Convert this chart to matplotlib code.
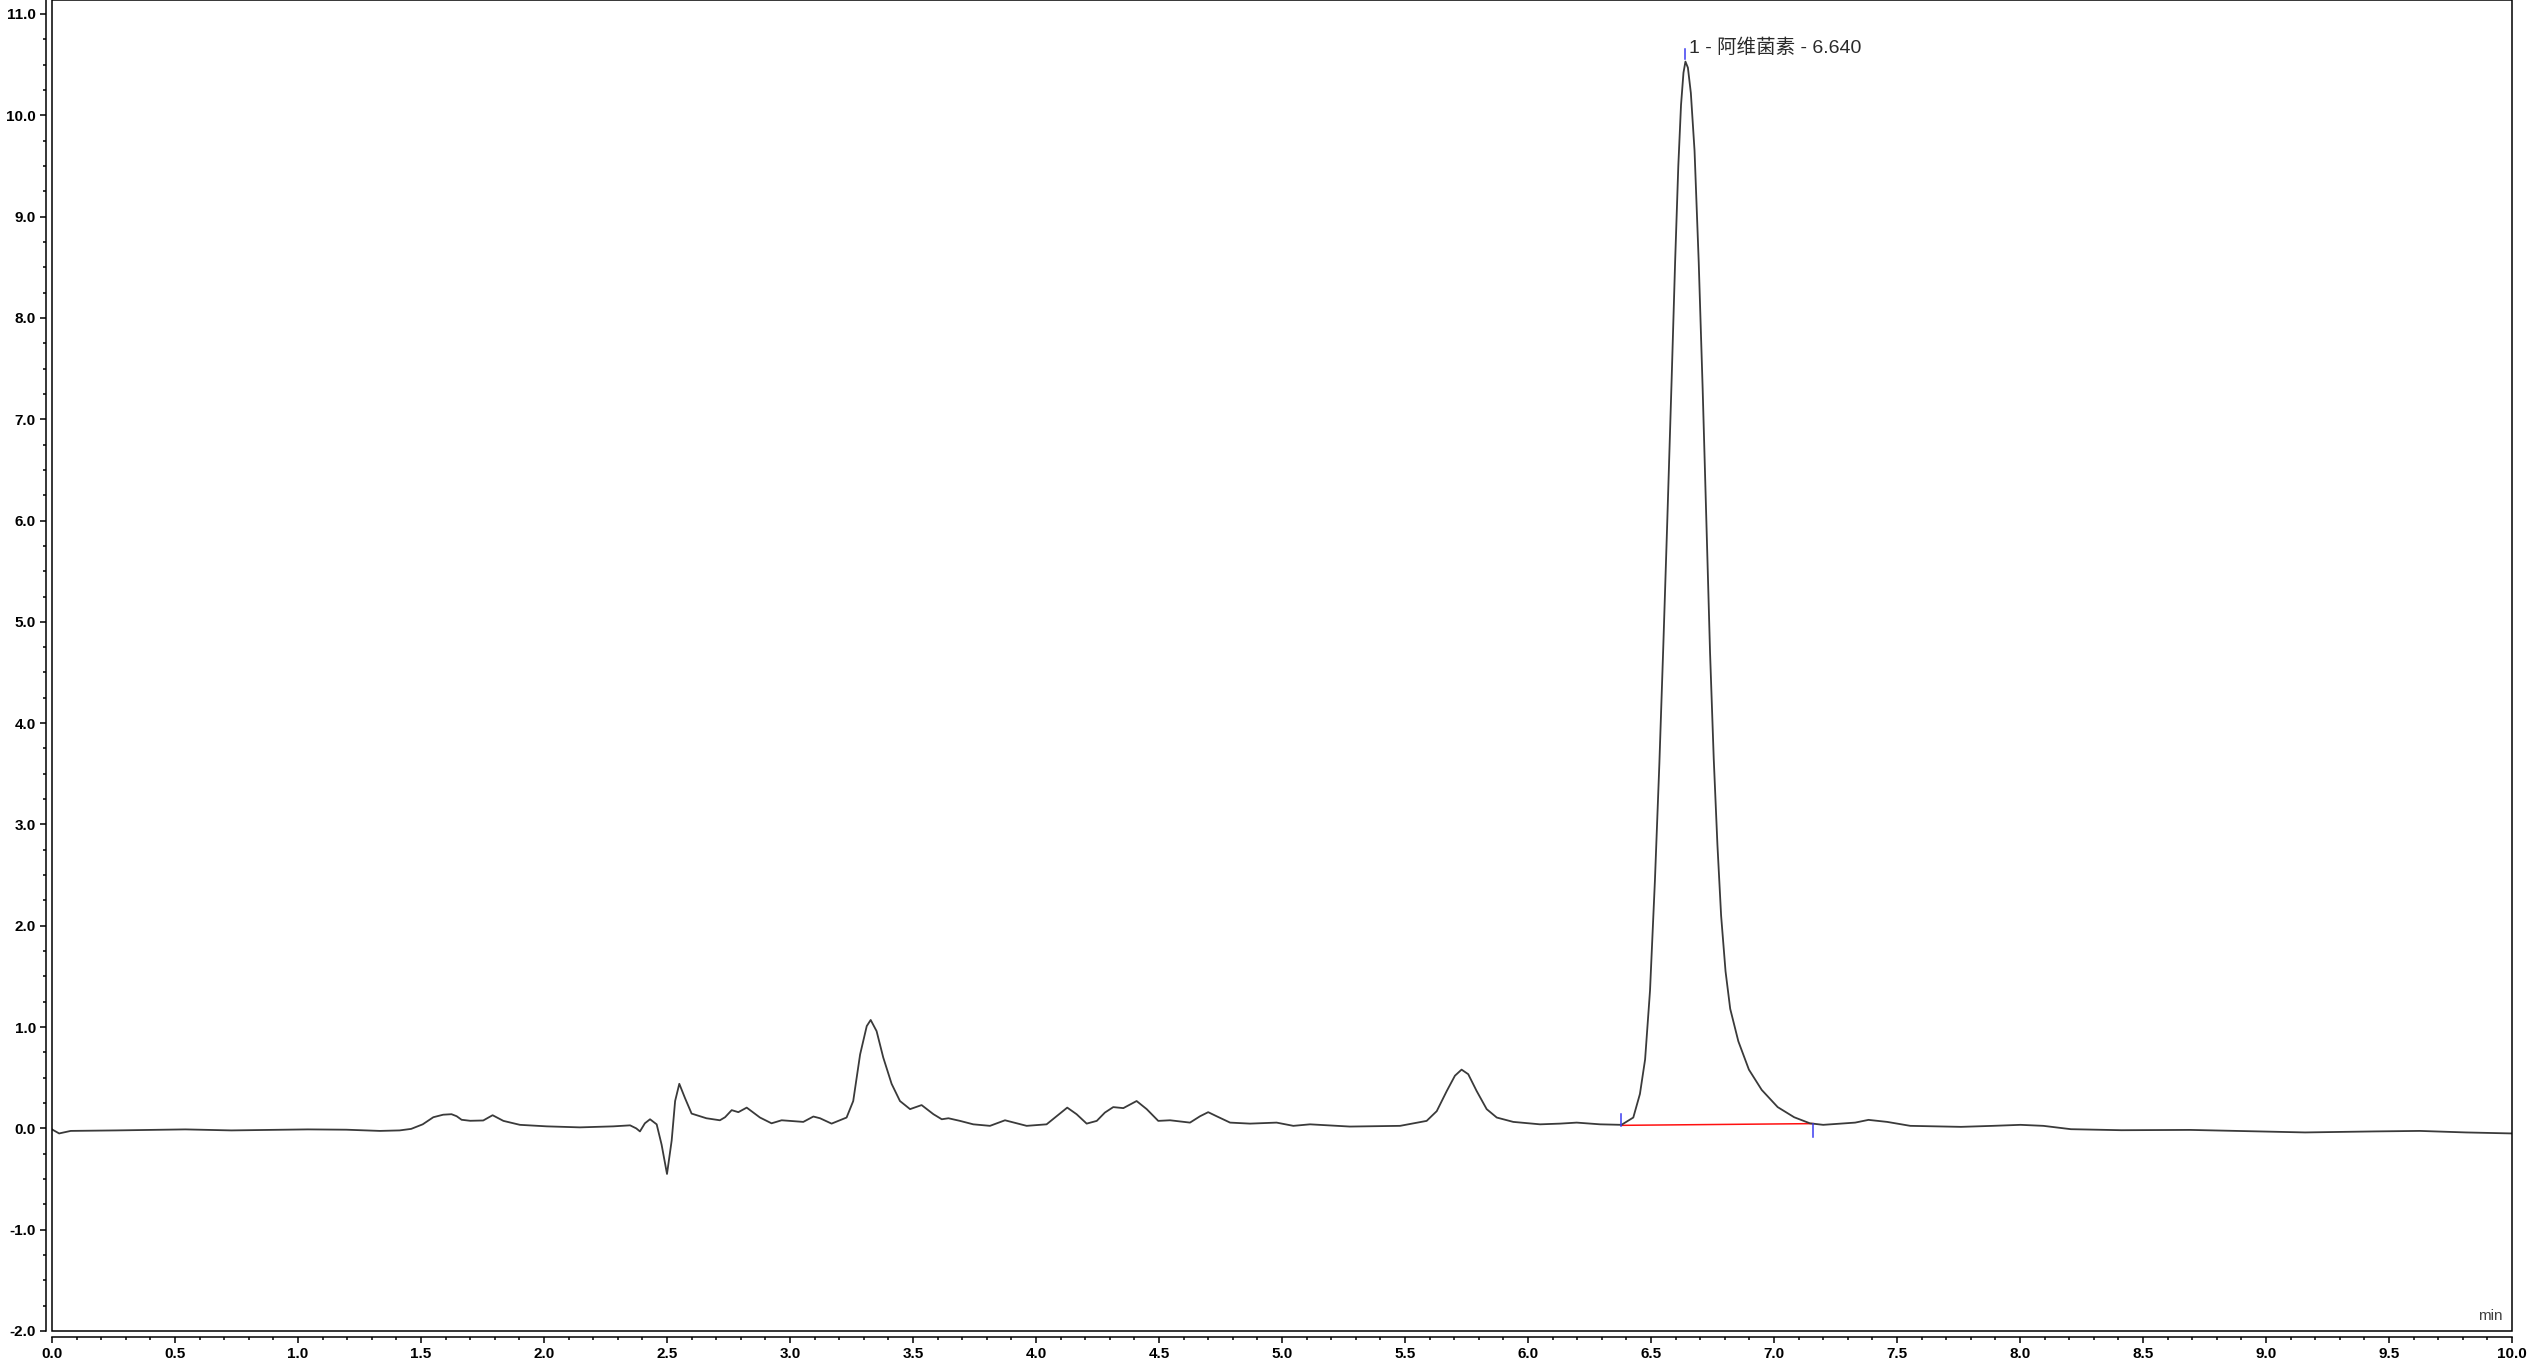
import numpy as np
import matplotlib
matplotlib.use("Agg")
import matplotlib.pyplot as plt
from matplotlib.patches import Rectangle
from matplotlib.ticker import MultipleLocator

plt.rcParams['font.family'] = ['Liberation Sans', 'Noto Sans CJK SC', 'DejaVu Sans']

# ---- data ----
time_min = [
    0.000, 0.029, 0.076, 0.262, 0.542, 0.729, 1.040, 1.196, 1.333, 1.413,
    1.460, 1.507, 1.550, 1.590, 1.624, 1.645, 1.665, 1.700, 1.753, 1.791,
    1.835, 1.902, 2.011, 2.146, 2.282, 2.350, 2.375, 2.390, 2.410, 2.431,
    2.458, 2.478, 2.500, 2.519, 2.533, 2.550, 2.573, 2.600, 2.660, 2.715,
    2.736, 2.763, 2.790, 2.824, 2.878, 2.925, 2.966, 3.054, 3.095, 3.122,
    3.169, 3.230, 3.257, 3.285, 3.312, 3.328, 3.352, 3.379, 3.413, 3.447,
    3.488, 3.535, 3.583, 3.617, 3.644, 3.691, 3.745, 3.813, 3.874, 3.962,
    4.043, 4.084, 4.127, 4.165, 4.206, 4.247, 4.280, 4.314, 4.355, 4.409,
    4.450, 4.497, 4.545, 4.626, 4.667, 4.700, 4.734, 4.789, 4.870, 4.978,
    5.046, 5.114, 5.276, 5.480, 5.588, 5.629, 5.670, 5.703, 5.730, 5.757,
    5.791, 5.832, 5.873, 5.940, 6.049, 6.130, 6.198, 6.293, 6.380, 6.428,
    6.455, 6.476, 6.496, 6.516, 6.534, 6.550, 6.566, 6.584, 6.598, 6.611,
    6.622, 6.632, 6.640, 6.650, 6.662, 6.677, 6.694, 6.710, 6.725, 6.740,
    6.755, 6.770, 6.785, 6.803, 6.822, 6.855, 6.898, 6.950, 7.015, 7.082,
    7.146, 7.200, 7.330, 7.384, 7.460, 7.554, 7.760, 7.890, 8.002, 8.095,
    8.207, 8.412, 8.692, 8.972, 9.159, 9.439, 9.625, 9.812, 10.000,
]
signal = [
    -0.010, -0.050, -0.025, -0.020, -0.010, -0.020, -0.010, -0.013, -0.025, -0.020,
    -0.005, 0.040, 0.110, 0.135, 0.140, 0.120, 0.085, 0.075, 0.078, 0.130,
    0.074, 0.035, 0.020, 0.010, 0.020, 0.030, 0.000, -0.030, 0.050, 0.090,
    0.040, -0.160, -0.450, -0.120, 0.270, 0.440, 0.300, 0.146, 0.100, 0.080,
    0.110, 0.180, 0.160, 0.205, 0.107, 0.050, 0.080, 0.064, 0.117, 0.100,
    0.047, 0.107, 0.270, 0.730, 1.010, 1.070, 0.960, 0.700, 0.440, 0.270,
    0.190, 0.230, 0.140, 0.090, 0.100, 0.074, 0.040, 0.025, 0.080, 0.025,
    0.040, 0.120, 0.205, 0.140, 0.047, 0.074, 0.156, 0.210, 0.200, 0.270,
    0.190, 0.074, 0.080, 0.057, 0.120, 0.160, 0.120, 0.057, 0.047, 0.057,
    0.025, 0.040, 0.018, 0.025, 0.074, 0.170, 0.370, 0.520, 0.580, 0.535,
    0.370, 0.190, 0.107, 0.064, 0.040, 0.047, 0.057, 0.040, 0.035, 0.107,
    0.340, 0.680, 1.360, 2.450, 3.600, 4.760, 5.980, 7.400, 8.550, 9.500,
    10.100, 10.420, 10.530, 10.470, 10.220, 9.650, 8.550, 7.300, 6.000, 4.700,
    3.650, 2.800, 2.100, 1.550, 1.180, 0.860, 0.580, 0.380, 0.210, 0.110,
    0.050, 0.035, 0.057, 0.084, 0.064, 0.025, 0.015, 0.025, 0.035, 0.025,
    -0.008, -0.018, -0.015, -0.030, -0.040, -0.030, -0.025, -0.040, -0.050,
]

peak_label = "1 - 阿维菌素 - 6.640"
peak_apex = (6.640, 10.53)
baseline_start = (6.38, 0.030)
baseline_end = (7.16, 0.047)

x_ticks = [0.0, 0.5, 1.0, 1.5, 2.0, 2.5, 3.0, 3.5, 4.0, 4.5, 5.0,
           5.5, 6.0, 6.5, 7.0, 7.5, 8.0, 8.5, 9.0, 9.5, 10.0]
y_ticks = [-2.0, -1.0, 0.0, 1.0, 2.0, 3.0, 4.0, 5.0, 6.0, 7.0, 8.0, 9.0, 10.0, 11.0]
x_unit = "min"

# ---- figure ----
W, H = 2530, 1364
fig = plt.figure(figsize=(W / 100, H / 100), dpi=100)
ax = fig.add_axes([52 / W, 33 / H, 2460 / W, 1331 / H])

ax.plot(time_min, signal, color='#3a3a3a', lw=1.3, solid_joinstyle='round', zorder=3)

# integration baseline and markers
ax.plot([baseline_start[0], baseline_end[0]], [baseline_start[1], baseline_end[1]],
        color='#ff1010', lw=1.1, zorder=2)
mark_c = '#3c3cf0'
ax.plot([baseline_start[0]] * 2, [baseline_start[1] - 0.005, baseline_start[1] + 0.11],
        color=mark_c, lw=1.1, zorder=4)
ax.plot([baseline_end[0]] * 2, [baseline_end[1], baseline_end[1] - 0.13],
        color=mark_c, lw=1.1, zorder=4)
ax.plot([peak_apex[0]] * 2, [peak_apex[1] + 0.03, peak_apex[1] + 0.12],
        color=mark_c, lw=1.1, zorder=4)
ax.text(peak_apex[0] + 0.015, peak_apex[1] + 0.14, peak_label,
        ha='left', va='center', fontsize=14, color='#2a2a2a',
        family=['Liberation Sans', 'Noto Sans CJK SC', 'DejaVu Sans'])

ax.set_xlim(0, 10)
ax.set_ylim(-2.0, 11.138)

# frame
for s in ['top', 'right']:
    ax.spines[s].set_visible(False)
for s in ['left', 'bottom']:
    ax.spines[s].set_position(('outward', 4.32))
    ax.spines[s].set_linewidth(1.1)
ax.add_patch(Rectangle((0, 0), 1, 1, transform=ax.transAxes, fill=False,
                       ec='black', lw=1.1, clip_on=False, zorder=5))

ax.set_xticks(x_ticks, labels=[f"{v:.1f}" for v in x_ticks],
              fontweight='bold', fontsize=11)
ax.set_yticks(y_ticks, labels=[f"{v:.1f}" for v in y_ticks],
              fontweight='bold', fontsize=11)
ax.xaxis.set_minor_locator(MultipleLocator(0.1))
ax.yaxis.set_minor_locator(MultipleLocator(0.25))
ax.tick_params(which='major', length=4.3, width=1.1, direction='out', pad=3, colors='black')
ax.tick_params(which='minor', length=2.2, width=1.1, direction='out')

fig.text(2490 / W, 1 - 1316 / H, x_unit, ha='center', va='center',
         fontsize=11, color='#404040')

fig.savefig("out.png", dpi=100)
